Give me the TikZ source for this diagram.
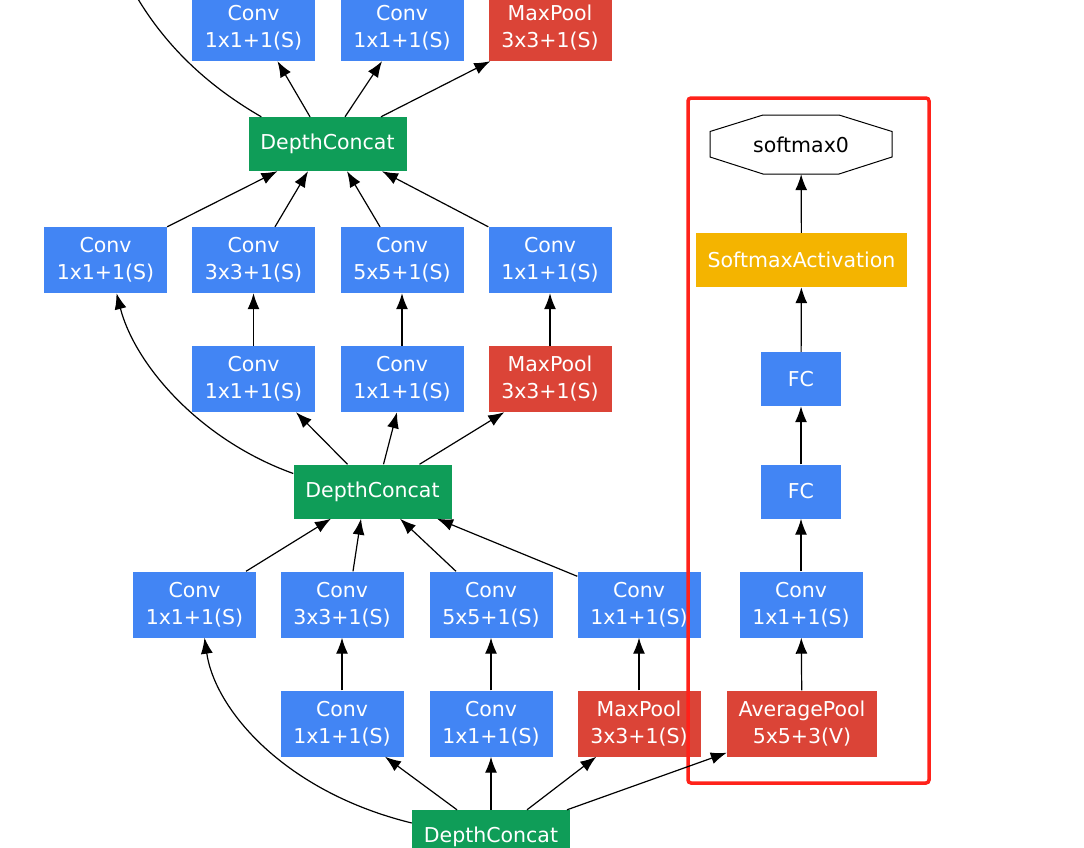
\documentclass[tikz,border=0pt]{standalone}
\usepackage{fontspec}
\setmainfont{DejaVu Sans}
\usetikzlibrary{arrows.meta}

\definecolor{gblue}{RGB}{66,133,244}
\definecolor{gred}{RGB}{219,68,55}
\definecolor{ggreen}{RGB}{15,157,88}
\definecolor{gyellow}{RGB}{244,180,0}
\definecolor{boxred}{RGB}{255,34,26}

\begin{document}
\begin{tikzpicture}%
	[x=1pt, y=-1pt,
	layer/.style={inner sep=0pt, align=center, text=white, font=\fontsize{20.5}{27}\selectfont},
	conv/.style={layer, fill=gblue, minimum width=123pt, minimum height=66pt},
	pool/.style={layer, fill=gred, minimum width=123pt, minimum height=66pt},
	concat/.style={layer, fill=ggreen, minimum width=158pt, minimum height=54pt},
	fc/.style={layer, fill=gblue, minimum width=80pt, minimum height=54pt},
	act/.style={layer, fill=gyellow, minimum width=211pt, minimum height=54pt},
	output/.style={inner sep=0pt, minimum width=182pt, minimum height=59pt, font=\fontsize{20.5}{27}\selectfont},
	octagon/.style={draw=black, fill=white, line width=1pt},
	edge/.style={line width=1.2pt, -{Latex[length=16pt,width=12pt]}},
	frame/.style={draw=boxred, line width=3.5pt, rounded corners=3pt}]
%
\useasboundingbox (0,0) rectangle (1084,847);
\clip (0,0) rectangle (1084,847);
%%
%% Top of the inception block (cut off)
%%
\node[conv] (t1) at (253.5,28) {Conv\\1x1+1(S)};
\node[conv] (t2) at (402,28) {Conv\\1x1+1(S)};
\node[pool] (t3) at (550,28) {MaxPool\\3x3+1(S)};
\node[concat] (dc3) at (327.5,144) {DepthConcat};
\coordinate (up) at (130,-15);
%%
%% Second inception block
%%
\node[conv] (c2a) at (105.5,260) {Conv\\1x1+1(S)};
\node[conv] (c2b) at (253.5,260) {Conv\\3x3+1(S)};
\node[conv] (c2c) at (402,260) {Conv\\5x5+1(S)};
\node[conv] (c2d) at (550,260) {Conv\\1x1+1(S)};
\node[conv] (r3a) at (253.5,379) {Conv\\1x1+1(S)};
\node[conv] (r3b) at (402,379) {Conv\\1x1+1(S)};
\node[pool] (r3c) at (550,379) {MaxPool\\3x3+1(S)};
\node[concat] (dc2) at (372.5,491.5) {DepthConcat};
%%
%% First inception block
%%
\node[conv] (r4a) at (194.5,604.5) {Conv\\1x1+1(S)};
\node[conv] (r4b) at (342,604.5) {Conv\\3x3+1(S)};
\node[conv] (r4c) at (491,604.5) {Conv\\5x5+1(S)};
\node[conv] (r4d) at (639,604.5) {Conv\\1x1+1(S)};
\node[conv] (r5a) at (342,723.5) {Conv\\1x1+1(S)};
\node[conv] (r5b) at (491,723.5) {Conv\\1x1+1(S)};
\node[pool] (r5c) at (639,723.5) {MaxPool\\3x3+1(S)};
\node[concat] (dc1) at (491,837) {DepthConcat};
%%
%% Auxiliary classifier
%%
\node[pool, minimum width=150pt] (avg) at (802,723.5) {AveragePool\\5x5+3(V)};
\node[conv] (rc) at (801,604.5) {Conv\\1x1+1(S)};
\node[fc] (fc1) at (801,491.5) {FC};
\node[fc] (fc2) at (801,379) {FC};
\node[act] (sa) at (801.5,260) {SoftmaxActivation};
\draw[octagon] (710,131.5) -- (763,115) -- (839,115) -- (892,131.5) -- (892,157)
	-- (839,174) -- (763,174) -- (710,157) -- cycle;
\node[output] (sm) at (801,144.5) {softmax0};
\draw[frame] (688,98) rectangle (929,783);
%%
%% Edges of the first block
%%
\draw[edge] ([yshift=14pt]dc1.west) .. controls (285,792) and (215,710) .. ([xshift=10pt]r4a.south);
\draw[edge] ([xshift=-34pt]dc1.north) -- ([xshift=43pt]r5a.south);
\draw[edge] (dc1.north) -- (r5b.south);
\draw[edge] ([xshift=36pt]dc1.north) -- ([xshift=19pt]r5c.south west);
\draw[edge] ([xshift=76pt]dc1.north) -- ([yshift=4pt]avg.south west);
\draw[edge] (r5a) -- (r4b);
\draw[edge] (r5b) -- (r4c);
\draw[edge] (r5c) -- (r4d);
\draw[edge] ([xshift=51.5pt]r4a.north) -- ([xshift=-41.5pt]dc2.south);
\draw[edge] ([xshift=11pt]r4b.north) -- ([xshift=-11.5pt]dc2.south);
\draw[edge] ([xshift=-35pt]r4c.north) -- ([xshift=27.5pt]dc2.south);
\draw[edge] ([yshift=-5pt]r4d.north west) -- ([xshift=64.5pt]dc2.south);
%%
%% Edges of the second block
%%
\draw[edge] ([yshift=18pt]dc2.west) .. controls (200,440) and (135,365) .. ([xshift=11pt]c2a.south);
\draw[edge] ([xshift=-25pt]dc2.north) -- ([xshift=42.5pt]r3a.south);
\draw[edge] ([xshift=11pt]dc2.north) -- ([xshift=-5pt]r3b.south);
\draw[edge] ([xshift=47pt]dc2.north) -- ([xshift=16pt]r3c.south west);
\draw[edge] (r3a) -- (c2b);
\draw[edge] (r3b) -- (c2c);
\draw[edge] (r3c) -- (c2d);
\draw[edge] (c2a.north east) -- ([xshift=-50pt]dc3.south);
\draw[edge] ([xshift=21.5pt]c2b.north) -- ([xshift=-19.5pt]dc3.south);
\draw[edge] ([xshift=-22pt]c2c.north) -- ([xshift=19.5pt]dc3.south);
\draw[edge] (c2d.north west) -- ([xshift=54.5pt]dc3.south);
%%
%% Edges of the top block
%%
\draw[edge, -] ([xshift=13pt]dc3.north west) .. controls (215,90) and (165,50) .. (up);
\draw[edge] ([xshift=-17.5pt]dc3.north) -- ([xshift=24pt]t1.south);
\draw[edge] ([xshift=17.5pt]dc3.north) -- ([xshift=-20pt]t2.south);
\draw[edge] ([xshift=53.5pt]dc3.north) -- ([xshift=2pt]t3.south west);
%%
%% Edges of the classifier
%%
\draw[edge] (avg) -- (rc);
\draw[edge] (rc) -- (fc1);
\draw[edge] (fc1) -- (fc2);
\draw[edge] (fc2) -- (sa);
\draw[edge] (sa) -- (sm);
%%
\end{tikzpicture}
\end{document}
